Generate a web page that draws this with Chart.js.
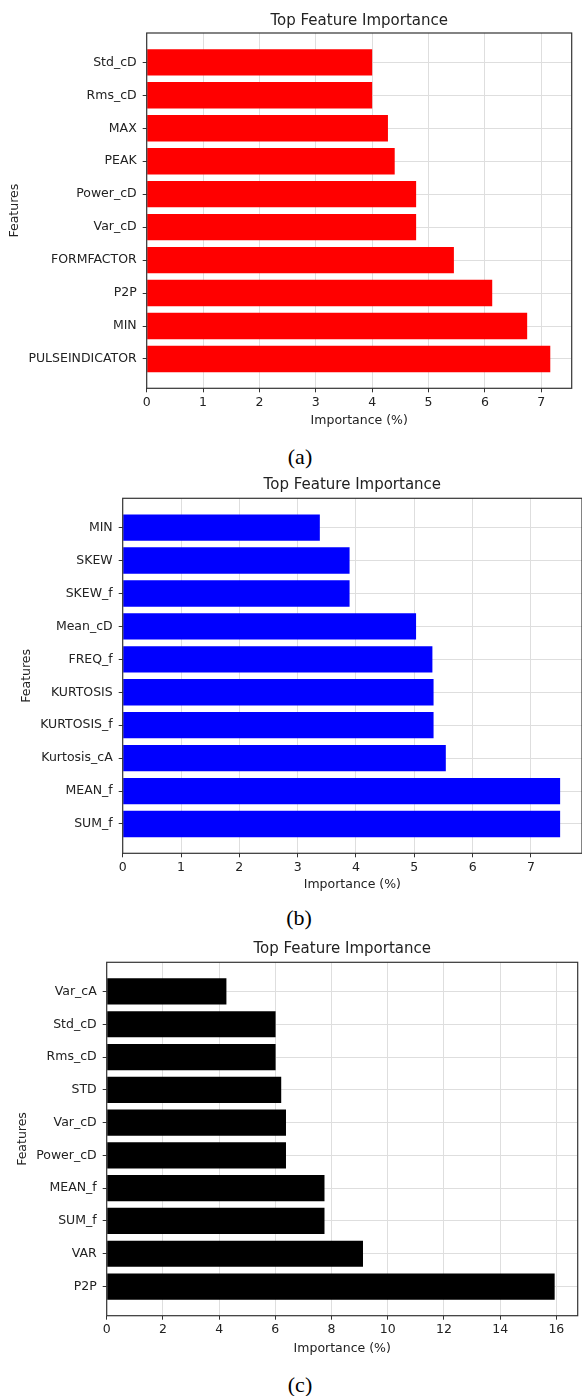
<!DOCTYPE html>
<html><head><meta charset="utf-8">
<script src="https://cdn.jsdelivr.net/npm/chart.js@4.4.1/dist/chart.umd.min.js"></script>
<style>
html,body{margin:0;padding:0;background:#fff;}
body{width:582px;height:1396px;position:relative;overflow:hidden;}
.p{position:absolute;left:0;width:582px;}
.p canvas{display:block;}
.cap{position:absolute;font-family:'Liberation Serif','Times New Roman',serif;font-size:22px;color:#000;transform:translate(-50%,-50%);white-space:nowrap;line-height:1;}
</style></head><body>
<div class="p" style="top:0px;height:440px"><canvas id="ca" width="582" height="440" style="width:582px;height:440px"></canvas></div>
<div class="p" style="top:470px;height:435px"><canvas id="cb" width="582" height="435" style="width:582px;height:435px"></canvas></div>
<div class="p" style="top:930px;height:440px"><canvas id="cc" width="582" height="440" style="width:582px;height:440px"></canvas></div>
<div class="cap" style="left:300px;top:457px">(a)</div>
<div class="cap" style="left:299px;top:918px">(b)</div>
<div class="cap" style="left:300px;top:1385px">(c)</div>
<script>
// ---- data ----
const titleText = 'Top Feature Importance';
const xTitle = 'Importance (%)';
const yTitle = 'Features';

const labelsA = ['Std_cD','Rms_cD','MAX','PEAK','Power_cD','Var_cD','FORMFACTOR','P2P','MIN','PULSEINDICATOR'];
const valuesA = [4.00, 4.00, 4.28, 4.40, 4.78, 4.78, 5.45, 6.13, 6.75, 7.16];
const xTicksA = [0,1,2,3,4,5,6,7];

const labelsB = ['MIN','SKEW','SKEW_f','Mean_cD','FREQ_f','KURTOSIS','KURTOSIS_f','Kurtosis_cA','MEAN_f','SUM_f'];
const valuesB = [3.38, 3.89, 3.89, 5.03, 5.31, 5.33, 5.33, 5.54, 7.50, 7.50];
const xTicksB = [0,1,2,3,4,5,6,7];

const labelsC = ['Var_cA','Std_cD','Rms_cD','STD','Var_cD','Power_cD','MEAN_f','SUM_f','VAR','P2P'];
const valuesC = [4.26, 6.01, 6.01, 6.21, 6.38, 6.38, 7.75, 7.75, 9.12, 15.94];
const xTicksC = [0,2,4,6,8,10,12,14,16];

// ---- styling / layout ----
const F = "'DejaVu Sans', sans-serif";
const TXT = '#222';
const GRID = '#dedede';
const W = 582;

const framePlugin = {
  id: 'frame',
  afterDraw(chart) {
    const {ctx, chartArea: a} = chart;
    ctx.save();
    ctx.strokeStyle = '#333';
    ctx.lineWidth = 1.2;
    ctx.strokeRect(a.left, a.top, a.right - a.left, a.bottom - a.top);
    ctx.restore();
  }
};

function makeChart(id, g, labels, values, color, xTicks, xMax) {
  const titleLH = 15 * 1.2;
  const axLH = 12.5 * 1.2;
  return new Chart(document.getElementById(id), {
    type: 'bar',
    data: {
      datasets: [{
        data: values.map((v, i) => ({x: v, y: i})),
        backgroundColor: color,
        borderWidth: 0,
        categoryPercentage: 1,
        barPercentage: 0.8
      }]
    },
    options: {
      responsive: false,
      animation: false,
      indexAxis: 'y',
      layout: {padding: {left: 0, right: W - g.right, top: 0, bottom: 0}},
      plugins: {
        legend: {display: false},
        tooltip: {enabled: false},
        title: {
          display: true, text: titleText, fullSize: false, color: TXT,
          font: {family: F, size: 15, weight: 'normal'},
          padding: {top: g.titleC - titleLH / 2, bottom: g.top - g.titleC - titleLH / 2}
        }
      },
      scales: {
        x: {
          type: 'linear', min: 0, max: xMax, offset: false,
          afterBuildTicks: s => { s.ticks = xTicks.map(v => ({value: v})); },
          afterFit: s => { s.height = g.h - g.bottom; },
          grid: {color: GRID, tickColor: '#333', tickLength: 4, lineWidth: 1, offset: false},
          border: {display: false},
          ticks: {color: TXT, font: {family: F, size: 12.5}, padding: 3, maxRotation: 0, autoSkip: false, callback: v => String(v)},
          title: {display: true, text: xTitle, color: TXT, font: {family: F, size: 12.5},
                  padding: {top: 0, bottom: g.h - g.xTitleC - axLH / 2}}
        },
        y: {
          type: 'linear', reverse: true, offset: false,
          min: -0.89, max: labels.length - 1 + 0.89,
          afterBuildTicks: s => { s.ticks = labels.map((_, i) => ({value: i})); },
          afterFit: s => { s.width = g.left; },
          grid: {color: GRID, tickColor: '#333', tickLength: 4, lineWidth: 1, offset: false},
          border: {display: false},
          ticks: {color: TXT, font: {family: F, size: 12.5}, padding: 6, autoSkip: false, callback: v => labels[v]},
          title: {display: true, text: yTitle, color: TXT, font: {family: F, size: 12.5},
                  padding: {top: g.yTitleX - axLH / 2, bottom: 0}}
        }
      }
    },
    plugins: [framePlugin]
  });
}

makeChart('ca', {h: 440, left: 146.7, right: 571.7, top: 33, bottom: 388.3, titleC: 20.7, xTitleC: 420.7, yTitleX: 15},
  labelsA, valuesA, '#ff0000', xTicksA, 7.54);
makeChart('cb', {h: 435, left: 122.7, right: 582, top: 28.3, bottom: 383.3, titleC: 15, xTitleC: 414.3, yTitleX: 26.8},
  labelsB, valuesB, '#0000ff', xTicksB, 7.875);
makeChart('cc', {h: 440, left: 106.7, right: 577.7, top: 32.3, bottom: 385.7, titleC: 19.3, xTitleC: 418.3, yTitleX: 22.4},
  labelsC, valuesC, '#000000', xTicksC, 16.76);
</script>
</body></html>
